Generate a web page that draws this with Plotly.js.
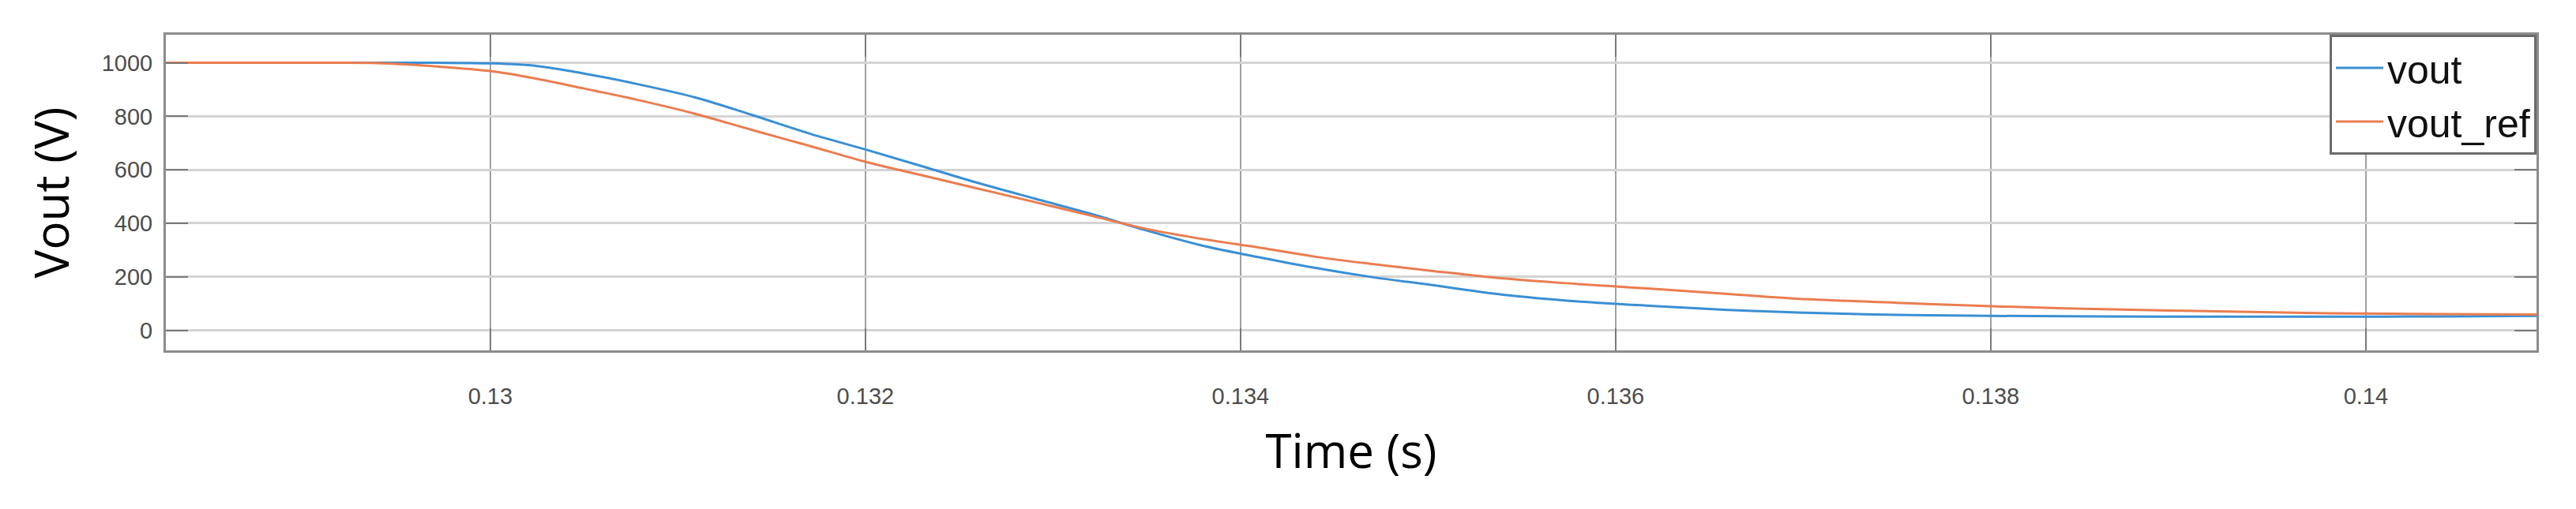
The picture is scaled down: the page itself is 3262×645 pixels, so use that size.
<!DOCTYPE html>
<html>
<head>
<meta charset="utf-8">
<script src="https://cdn.plot.ly/plotly-3.0.1.min.js"></script>
<style>
  html, body { margin: 0; padding: 0; background: #fff; }
  #chart { width: 3262px; height: 645px; }
</style>
</head>
<body>
<div id="chart"></div>
<script>
// Sample times (s)
const time = [
    0.1282, 0.1290, 0.1294, 0.1297, 0.1300, 0.13025, 0.1305, 0.1308, 0.1311, 0.1314,
    0.1317, 0.1320, 0.1323, 0.1326, 0.1329, 0.1332, 0.1335, 0.1338, 0.1341, 0.1344,
    0.1347, 0.1350, 0.1354, 0.1358, 0.1362, 0.1366, 0.1370, 0.1375, 0.1380, 0.1386,
    0.1392, 0.1398, 0.1404, 0.1410
];

// Measured output voltage (V)
const vout = [
    1000, 1000, 1000, 1000, 998, 988, 960, 918, 869, 804,
    736, 676, 614, 551, 493, 436, 373, 316, 273, 233,
    199, 171, 133, 108, 91, 76, 66, 58, 54, 52,
    51, 51, 52, 54
];

// Reference output voltage (V)
const voutRef = [
    1000, 1000, 999, 987, 969, 940, 904, 859, 808, 748,
    690, 630, 580, 530, 480, 429, 379, 341, 309, 275,
    248, 224, 194, 173, 155, 136, 117, 103, 90, 79,
    71, 64, 61, 59
];

const xTickVals = [0.130, 0.132, 0.134, 0.136, 0.138, 0.140];
const xTickText = ['0.13', '0.132', '0.134', '0.136', '0.138', '0.14'];
const yTickVals = [0, 200, 400, 600, 800, 1000];

const data = [
    {
        x: time,
        y: vout,
        name: 'vout',
        type: 'scatter',
        mode: 'lines',
        line: { color: '#3a8fd4', width: 3, shape: 'spline' }
    },
    {
        x: time,
        y: voutRef,
        name: 'vout_ref',
        type: 'scatter',
        mode: 'lines',
        line: { color: '#ea7d50', width: 3, shape: 'spline' }
    }
];

const axisCommon = {
    showline: true,
    linecolor: '#8c8c8c',
    linewidth: 3,
    mirror: 'ticks',
    ticks: 'inside',
    ticklen: 28,
    tickwidth: 2,
    tickcolor: '#7a7a7a',
    zeroline: false,
    tickfont: { family: 'Liberation Sans, Arial, sans-serif', size: 29, color: '#4d4d4d' }
};

const layout = {
    width: 3262,
    height: 645,
    paper_bgcolor: '#ffffff',
    plot_bgcolor: '#ffffff',
    margin: { l: 210, r: 50, t: 44, b: 201 },
    showlegend: true,
    legend: {
        x: 1, xanchor: 'right',
        y: 1, yanchor: 'top',
        bgcolor: '#ffffff',
        bordercolor: '#6b6b6b',
        borderwidth: 3,
        font: { family: 'Liberation Sans, Arial, sans-serif', size: 50, color: '#111' },
        itemwidth: 60,
        tracegroupgap: 0
    },
    xaxis: Object.assign({}, axisCommon, {
        range: [0.12827, 0.14091],
        tickmode: 'array',
        tickvals: xTickVals,
        ticktext: xTickText,
        ticklabelstandoff: 30,
        showgrid: true,
        gridcolor: '#a0a0a0',
        gridwidth: 2,
        title: {
            text: 'Time (s)',
            standoff: 35,
            font: { family: 'Open Sans, sans-serif', size: 60, color: '#000' }
        }
    }),
    yaxis: Object.assign({}, axisCommon, {
        range: [-75, 1105],
        tickmode: 'array',
        tickvals: yTickVals,
        ticklabelstandoff: 8,
        showgrid: true,
        gridcolor: '#d4d4d4',
        gridwidth: 3,
        title: {
            text: 'Vout (V)',
            standoff: 22,
            font: { family: 'Open Sans, sans-serif', size: 60, color: '#000' }
        }
    })
};

Plotly.newPlot('chart', data, layout, { displayModeBar: false, staticPlot: true });
</script>
</body>
</html>
